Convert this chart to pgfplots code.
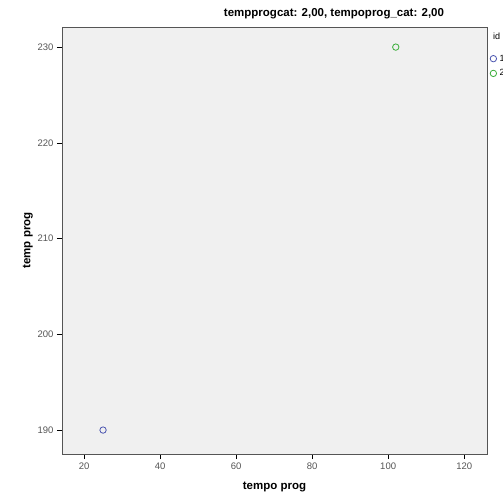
\documentclass[border=0pt]{standalone}
\usepackage{pgfplots}
\pgfplotsset{compat=1.18}
\usepackage{fontspec}
\setmainfont{Liberation Sans}
\definecolor{bgc}{HTML}{F0F0F0}
\definecolor{bluec}{HTML}{4B55B0}
\definecolor{greenc}{HTML}{3AAE3A}
\definecolor{tickc}{HTML}{555555}
\pgfplotsset{mylegimg/.style={legend image code/.code={\draw[##1] plot coordinates {(3.5pt,0pt)};}}}
\begin{document}
\begin{tikzpicture}[x=1pt,y=1pt]
\fill[white] (0,0) rectangle (503,504);
\begin{axis}[
  at={(62pt,50pt)}, anchor=south west,
  scale only axis, width=425pt, height=427pt,
  xmin=14.2, xmax=126, ymin=187.5, ymax=232.1,
  xtick={20,40,60,80,100,120}, ytick={190,200,210,220,230},
  axis background/.style={fill=bgc},
  axis line style={color=tickc, line width=0.8pt},
  tick style={color=black, line width=0.5pt},
  tick align=outside, major tick length=5pt,
  xtick pos=left, ytick pos=left,
  ticklabel style={font=\fontsize{9.5}{10}\selectfont, text=tickc},
  /pgf/number format/assume math mode=true,
  xlabel={\bfseries tempo prog}, ylabel={\bfseries temp prog},
  label style={font=\fontsize{11.5}{13}\selectfont},
  xlabel style={yshift=-6pt},
  ylabel style={yshift=-2pt},
  legend style={at={(axis description cs:1.007,0.940)}, anchor=north west, draw=none, fill=none,
    font=\fontsize{9}{10}\selectfont, row sep=3pt, inner sep=0pt, column sep=1pt},
  legend cell align=left,
  clip=false,
]
\addplot[only marks, mark=o, mark size=3.2pt, color=bluec, thick, mylegimg] coordinates {(25,190)};
\addlegendentry{1}
\addplot[only marks, mark=o, mark size=3.2pt, color=greenc, thick, mylegimg] coordinates {(102,230)};
\addlegendentry{2}
\end{axis}
\node[font=\fontsize{9}{10}\selectfont, anchor=west, inner sep=0pt] at (493,468) {id};
\node[font=\fontsize{11.5}{13}\selectfont\bfseries] at (334,490) {tempprogcat: 2,00, tempoprog\_cat: 2,00};
\pgfresetboundingbox
\useasboundingbox (0,0) rectangle (503,504);
\end{tikzpicture}
\end{document}
